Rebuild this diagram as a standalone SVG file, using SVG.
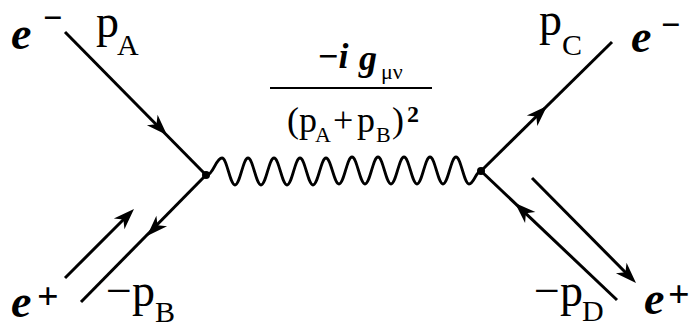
<svg xmlns="http://www.w3.org/2000/svg" xmlns:xlink="http://www.w3.org/1999/xlink" width="696" height="326" viewBox="0 0 696 326" font-family="Liberation Serif">
<style>
.ln{stroke:#000;stroke-width:3;fill:none;stroke-linecap:butt}
.wv{stroke:#000;stroke-width:2.8;fill:none}
.bi{font-weight:bold;font-style:italic}
.b{font-weight:bold}
.big{font-size:46px}
.sub{font-size:30px}
</style>
<defs>
<path id="ah" d="M0,0 L-21,-7.5 L-15,0 L-21,7.5 Z" fill="#000"/>
</defs>
<rect width="696" height="326" fill="#fff"/>
<g id="connectors">
<line class="ln" x1="65" y1="32" x2="206" y2="175"/>
<line class="ln" x1="206" y1="175" x2="81" y2="302"/>
<line class="ln" x1="65" y1="278" x2="130" y2="213"/>
<line class="ln" x1="481" y1="171" x2="612" y2="42"/>
<line class="ln" x1="481" y1="171" x2="617" y2="300"/>
<line class="ln" x1="532" y1="178" x2="632" y2="279"/>
<use xlink:href="#ah" transform="translate(167,135) rotate(45.4)"/>
<use xlink:href="#ah" transform="translate(147,236) rotate(134.5)"/>
<use xlink:href="#ah" transform="translate(134,209) rotate(-45)"/>
<use xlink:href="#ah" transform="translate(547,106) rotate(-44.6)"/>
<use xlink:href="#ah" transform="translate(515,203) rotate(223.5)"/>
<use xlink:href="#ah" transform="translate(636,283) rotate(45.3)"/>
<path id="photon" class="wv" d="M207,175 C213,175 216,158 222,158 C227,158 230,185 235,185 C240,185 243,158 248,158 C253,158 256,185 261,185 C266,185 269,158 274,158 C279,158 282,185 287,185 C292,185 295,158 300,158 C305,158 308,185 313,185 C318,185 321,158 326,158 C331,158 334,184 339,184 C344,184 347,157 352,157 C357,157 360,184 365,184 C370,184 373,157 378,157 C383,157 386,184 391,184 C396,184 399,157 404,157 C409,157 412,184 417,184 C422,184 425,157 430,157 C435,157 438,184 443,184 C448,184 451,157 456,157 C461,157 464,184 469,184 C474,184 476,171 481,171"/>
</g>
<g id="vertex-left"><circle cx="206" cy="175" r="4" fill="#000"/></g>
<g id="vertex-right"><circle cx="481" cy="171" r="4" fill="#000"/></g>
<g id="label-eminus-in">
<text font-family="Liberation Serif" class="bi big" x="11" y="49">e</text>
<text font-family="Liberation Serif" class="b" x="43" y="29" font-size="34">−</text>
</g>
<g id="label-pA">
<text font-family="Liberation Serif" class="big" x="96" y="37">p</text>
<text font-family="Liberation Serif" class="sub" x="117" y="55">A</text>
</g>
<g id="label-eplus-in">
<text font-family="Liberation Serif" class="bi big" x="11" y="317">e</text>
<text font-family="Liberation Serif" class="b" x="37" y="309" font-size="38">+</text>
</g>
<g id="label-pB">
<text font-family="Liberation Serif" class="big" x="106" y="306">−p</text>
<text font-family="Liberation Serif" class="sub" x="155" y="322">B</text>
</g>
<g id="label-pC">
<text font-family="Liberation Serif" class="big" x="539" y="35">p</text>
<text font-family="Liberation Serif" class="sub" x="562" y="55">C</text>
</g>
<g id="label-eminus-out">
<text font-family="Liberation Serif" class="bi big" x="631" y="52">e</text>
<text font-family="Liberation Serif" class="b" x="661" y="36" font-size="34">−</text>
</g>
<g id="label-pD">
<text font-family="Liberation Serif" class="big" x="534" y="306">−p</text>
<text font-family="Liberation Serif" class="sub" x="582" y="321">D</text>
</g>
<g id="label-eplus-out">
<text font-family="Liberation Serif" class="bi big" x="644" y="314">e</text>
<text font-family="Liberation Serif" class="b" x="668" y="307" font-size="38">+</text>
</g>
<g id="propagator">
<text font-family="Liberation Serif" class="b" x="318" y="68" font-size="36">−<tspan class="bi">i</tspan></text>
<text font-family="Liberation Serif" class="bi" x="359" y="70" font-size="36">g</text>
<text font-family="Liberation Serif" x="381" y="79" font-size="22">μν</text>
<line x1="270" y1="88" x2="432" y2="88" stroke="#000" stroke-width="2"/>
<text font-family="Liberation Serif" x="287" y="132" font-size="36">(p</text>
<text font-family="Liberation Serif" x="315" y="142" font-size="22">A</text>
<text font-family="Liberation Serif" x="333" y="132" font-size="36">+</text>
<text font-family="Liberation Serif" x="357" y="132" font-size="36">p</text>
<text font-family="Liberation Serif" x="376" y="142" font-size="22">B</text>
<text font-family="Liberation Serif" x="392" y="132" font-size="36">)</text>
<text font-family="Liberation Serif" class="b" x="407" y="122" font-size="24">2</text>
</g>
</svg>
